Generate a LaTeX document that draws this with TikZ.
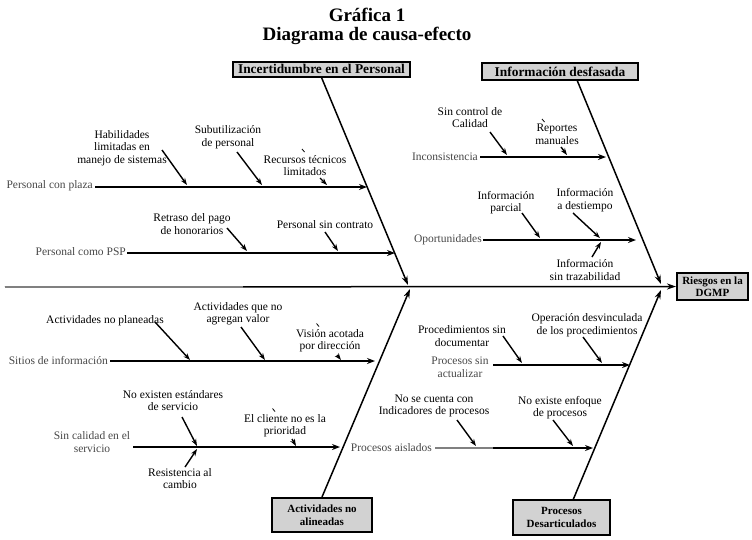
\documentclass[tikz,border=0pt]{standalone}
\usepackage{fontspec}
\setmainfont{Liberation Serif}
\usetikzlibrary{arrows.meta}
\begin{document}
\begin{tikzpicture}[x=1pt,y=-1pt,
  lbl/.style={font=\fontsize{11.5}{12.5}\selectfont, align=center, inner sep=0pt, text=black},
  glbl/.style={lbl, text=black!72},
  ttl/.style={font=\fontsize{19}{22}\bfseries\selectfont, inner sep=0pt},
  catbox/.style={draw=black, line width=2pt, fill=gray!35, font=\fontsize{13.4}{15}\bfseries\selectfont, inner sep=1pt, align=center},
  smbox/.style={catbox, font=\fontsize{11}{12.5}\bfseries\selectfont},
  bone/.style={line width=1.5pt, -{Stealth[length=9pt,width=6pt]}},
  sub/.style={line width=1.9pt, -{Stealth[length=8pt,width=6pt]}},
  cause/.style={line width=1.4pt, -{Stealth[length=7pt,width=5pt]}},
  tick/.style={line width=0.8pt}
]
\useasboundingbox (0,0) rectangle (752,539);

% title
\node[ttl] (t1) at (367,15) {Gráfica 1};
\node[ttl] (t2) at (367,36) {Diagrama de causa-efecto};

% boxes
\node[catbox, minimum width=177pt, minimum height=15pt] (B1) at (321.5,69) {Incertidumbre en el Personal};
\node[catbox, minimum width=156pt, minimum height=17pt] (B2) at (560,71.5) {Información desfasada};
\node[smbox, minimum width=71pt, minimum height=27pt] (B3) at (712.5,286.5) {Riesgos en la\\DGMP};
\node[smbox, minimum width=100pt, minimum height=34pt] (B4) at (322,515) {Actividades no\\alineadas};
\node[smbox, minimum width=97pt, minimum height=35pt] (B5) at (561.5,517.5) {Procesos\\Desarticulados};

% spine and main bones
\coordinate (sp0) at (5,287);
\coordinate (spg) at (243,287);
\coordinate (j1) at (408,285);
\coordinate (b2s) at (577,80);
\coordinate (j2) at (661,284);
\coordinate (j3) at (410,289);
\coordinate (b5n) at (573,500);
\coordinate (j4) at (661,290);
\draw[bone] (sp0) -- (B3.west);
\draw[line width=1.5pt, gray] (sp0) -- (spg);
\draw[bone] (B1.south) -- (j1);
\draw[bone] (b2s) -- (j2);
\draw[bone] (B4.north) -- (j3);
\draw[bone] (b5n) -- (j4);

% ---------- top-left: Incertidumbre en el Personal
\node[glbl, anchor=east] (L1) at (93,186) {Personal con plaza};
\coordinate (L1s) at (95,187); \coordinate (L1e) at (367,187);
\draw[sub] (L1s) -- (L1e);
\node[glbl, anchor=east] (L2) at (126,252) {Personal como PSP};
\coordinate (L2s) at (127,253); \coordinate (L2e) at (395,253);
\draw[sub] (L2s) -- (L2e);

\node[lbl] (C1) at (122,148) {Habilidades\\limitadas en\\manejo de sistemas};
\coordinate (a1) at (162,150); \coordinate (e1) at (187,185);
\draw[cause] (a1) -- (e1);
\node[lbl] (C2) at (228,137) {Subutilización\\de personal};
\coordinate (a2) at (237,152); \coordinate (e2) at (262,185);
\draw[cause] (a2) -- (e2);
\node[lbl] (C3) at (305,165.5) {Recursos técnicos\\limitados};
\coordinate (a3) at (320,178); \coordinate (e3) at (327,185);
\draw[cause] (a3) -- (e3);
\coordinate (k1a) at (302,149); \coordinate (k1b) at (304.5,152);
\draw[tick] (k1a) -- (k1b);
\node[lbl] (C4) at (192,224) {Retraso del pago\\de honorarios};
\coordinate (a4) at (227,228); \coordinate (e4) at (247,251);
\draw[cause] (a4) -- (e4);
\node[lbl] (C5) at (325,225) {Personal sin contrato};
\coordinate (a5) at (325,232); \coordinate (e5) at (338,251);
\draw[cause] (a5) -- (e5);

% ---------- top-right: Información desfasada
\node[glbl, anchor=east] (L3) at (478,157) {Inconsistencia};
\coordinate (L3s) at (480,157); \coordinate (L3e) at (606,157);
\draw[sub] (L3s) -- (L3e);
\node[glbl, anchor=east] (L4) at (482,240) {Oportunidades};
\coordinate (L4s) at (483,240); \coordinate (L4e) at (636,240);
\draw[sub] (L4s) -- (L4e);

\node[lbl] (C6) at (470,117.5) {Sin control de\\Calidad};
\coordinate (a6) at (490,132); \coordinate (e6) at (507,155);
\draw[cause] (a6) -- (e6);
\node[lbl] (C7) at (557,134.5) {Reportes\\manuales};
\coordinate (a7) at (561,147); \coordinate (e7) at (567,155);
\draw[cause] (a7) -- (e7);
\coordinate (k2a) at (542,119); \coordinate (k2b) at (544.5,122);
\draw[tick] (k2a) -- (k2b);
\node[lbl] (C8) at (506,202.5) {Información\\parcial};
\coordinate (a8) at (522,213); \coordinate (e8) at (540,238);
\draw[cause] (a8) -- (e8);
\node[lbl] (C9) at (585,200) {Información\\a destiempo};
\coordinate (a9) at (573,213); \coordinate (e9) at (600,238);
\draw[cause] (a9) -- (e9);
\node[lbl] (C10) at (585,270) {Información\\sin trazabilidad};
\coordinate (a10) at (592,257); \coordinate (e10) at (601,242);
\draw[cause] (a10) -- (e10);

% ---------- bottom-left: Actividades no alineadas
\node[glbl, anchor=east] (L5) at (108,360) {Sitios de información};
\coordinate (L5s) at (110,361); \coordinate (L5e) at (375,361);
\draw[sub] (L5s) -- (L5e);
\node[glbl] (L6) at (92,442) {Sin calidad en el\\servicio};
\coordinate (L6s) at (133,447); \coordinate (L6e) at (340,447);
\draw[sub] (L6s) -- (L6e);

\node[lbl] (C11) at (105,321) {Actividades no planeadas};
\coordinate (a11) at (155,322); \coordinate (e11) at (190,360);
\draw[cause] (a11) -- (e11);
\node[lbl] (C12) at (238,313.5) {Actividades que no\\agregan valor};
\coordinate (a12) at (241,327); \coordinate (e12) at (265,360);
\draw[cause] (a12) -- (e12);
\node[lbl] (C13) at (330,340.5) {Visión acotada\\por dirección};
\coordinate (a13) at (337,355); \coordinate (e13) at (341,360);
\draw[cause] (a13) -- (e13);
\coordinate (k3a) at (316.5,323.5); \coordinate (k3b) at (319,326.5);
\draw[tick] (k3a) -- (k3b);
\node[lbl] (C14) at (173,400.5) {No existen estándares\\de servicio};
\coordinate (a14) at (182,417); \coordinate (e14) at (197,446);
\draw[cause] (a14) -- (e14);
\node[lbl] (C15) at (180,478.5) {Resistencia al\\cambio};
\coordinate (a15) at (185,467); \coordinate (e15) at (197,449);
\draw[cause] (a15) -- (e15);
\node[lbl] (C16) at (285,425.5) {El cliente no es la\\prioridad};
\coordinate (a16) at (292,439); \coordinate (e16) at (296,446);
\draw[cause] (a16) -- (e16);
\coordinate (k4a) at (272.5,408.5); \coordinate (k4b) at (275,411.5);
\draw[tick] (k4a) -- (k4b);

% ---------- bottom-right: Procesos Desarticulados
\node[glbl] (L7) at (460,367) {Procesos sin\\actualizar};
\coordinate (L7s) at (493,365); \coordinate (L7e) at (630,365);
\draw[sub] (L7s) -- (L7e);
\node[glbl, anchor=east] (L8) at (432,448) {Procesos aislados};
\coordinate (L8s) at (435,448); \coordinate (L8g) at (493,448); \coordinate (L8e) at (593,448);
\draw[sub] (L8s) -- (L8e);
\draw[line width=1.9pt, gray] (L8s) -- (L8g);

\node[lbl] (C17) at (462,336) {Procedimientos sin\\documentar};
\coordinate (a17) at (503,336); \coordinate (e17) at (522,363);
\draw[cause] (a17) -- (e17);
\node[lbl] (C18) at (587,325) {Operación desvinculada\\de los procedimientos};
\coordinate (a18) at (583,337); \coordinate (e18) at (602,363);
\draw[cause] (a18) -- (e18);
\node[lbl] (C19) at (434,406) {No se cuenta con\\Indicadores de procesos};
\coordinate (a19) at (457,420); \coordinate (e19) at (476,446);
\draw[cause] (a19) -- (e19);
\node[lbl] (C20) at (560,407.5) {No existe enfoque\\de procesos};
\coordinate (a20) at (553,420); \coordinate (e20) at (573,446);
\draw[cause] (a20) -- (e20);
\end{tikzpicture}
\end{document}
